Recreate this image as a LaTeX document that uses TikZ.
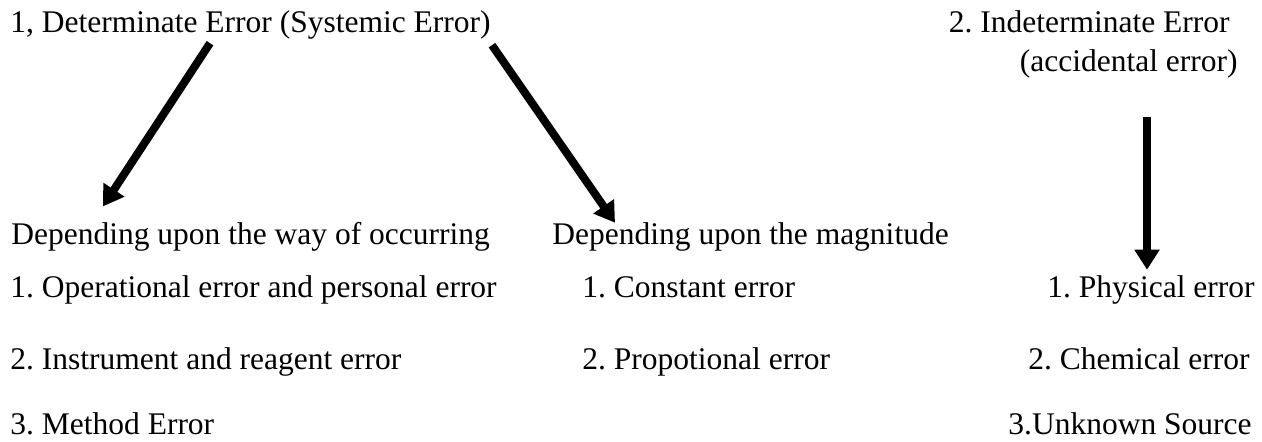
\documentclass[tikz,border=0pt]{standalone}
\usepackage{fontspec}
\setmainfont{Liberation Serif}
\usetikzlibrary{positioning, arrows.meta, calc}
\frenchspacing

\begin{document}
\begin{tikzpicture}[
      x=0.5pt, y=-0.5pt,
      lbl/.style={inner sep=0pt, anchor=base west, font=\fontsize{15.75pt}{19pt}\selectfont},
      rlbl/.style={lbl, anchor=base east},
      arr/.style={line width=4pt, -{Triangle[length=10pt, width=12pt]}}
    ]
    \useasboundingbox (0,0) rectangle (1262,442);
    % Headings
    \node[lbl] (det) at (10,33) {1, Determinate Error (Systemic Error)};
    \node[rlbl] (indet) at (1230,33) {2. Indeterminate Error};
    \node[rlbl] (acc) at (1238,72) {(accidental error)};

    % Sub-headings
    \node[lbl] (way) at (11,245) {Depending upon the way of occurring};
    \node[lbl] (mag) at (552,245) {Depending upon the magnitude};

    % Lists
    \node[lbl] (op) at (10,298) {1. Operational error and personal error};
    \node[lbl] (instr) at (10,370) {2. Instrument and reagent error};
    \node[lbl] (meth) at (10,435) {3. Method Error};
    \node[lbl] (const) at (582,298) {1. Constant error};
    \node[lbl] (prop) at (582,370) {2. Propotional error};
    \node[rlbl] (phys) at (1255,298) {1. Physical error};
    \node[rlbl] (chem) at (1250,370) {2. Chemical error};
    \node[rlbl] (unk) at (1252,435) {3.Unknown Source};

    % Arrows
    \draw[arr] ($(det.south west)+(200,3)$) -- ($(way.north west)+(92,-16)$);
    \draw[arr] ($(det.south west)+(482,5)$) -- ($(mag.north west)+(63,0)$);
    \draw[arr] ($(acc.south east)+(-91,38)$) -- ($(phys.north east)+(-108,-6)$);
  \end{tikzpicture}
\end{document}
